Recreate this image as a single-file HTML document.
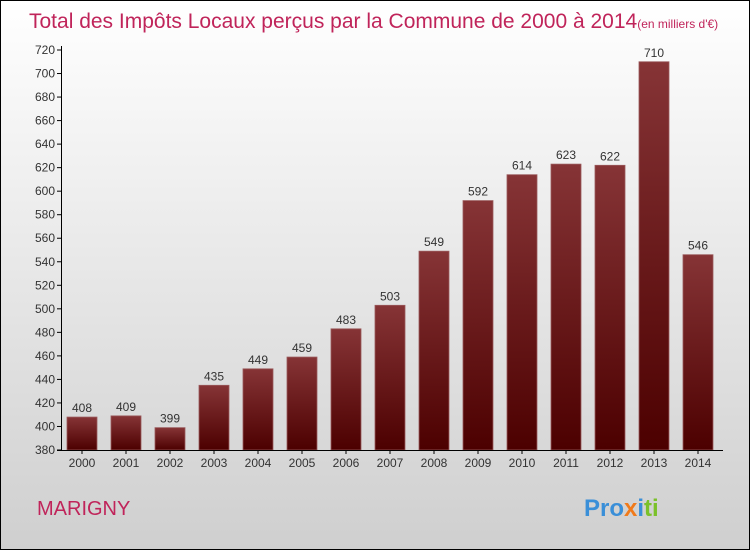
<!DOCTYPE html>
<html><head><meta charset="utf-8"><style>
html,body{margin:0;padding:0}
body{width:750px;height:550px;overflow:hidden;font-family:"Liberation Sans",sans-serif}
#wrap{position:relative;width:748px;height:548px;border:1px solid #000;background:linear-gradient(#ffffff,#cfcfcf)}
</style></head><body>
<div id="wrap">
<svg id="chart" width="748" height="548">
<defs><linearGradient id="bg" x1="0" y1="0" x2="0" y2="1"><stop offset="0" stop-color="#863436"/><stop offset="1" stop-color="#4c0000"/></linearGradient></defs>
<text x="28" y="27" font-size="21" fill="#c0245a">Total des Impôts Locaux perçus par la Commune de 2000 à 2014<tspan font-size="12">(en milliers d'€)</tspan></text>
<text x="36" y="514" font-size="20" fill="#c0245a">MARIGNY</text>
<text x="583" y="515" font-size="24" font-weight="bold"><tspan fill="#3a8fd8">Pro</tspan><tspan fill="#f07a1a">x</tspan><tspan fill="#3a8fd8">i</tspan><tspan fill="#7bc12a">ti</tspan></text>
</svg>
</div>
<script>
const categories=["2000","2001","2002","2003","2004","2005","2006","2007","2008","2009","2010","2011","2012","2013","2014"];
const values=[408,409,399,435,449,459,483,503,549,592,614,623,622,710,546];
const yTicks=[380,400,420,440,460,480,500,520,540,560,580,600,620,640,660,680,700,720];
const svg=document.getElementById('chart');
const NS="http://www.w3.org/2000/svg";
const yMin=380,yMax=720,y0=449,y1=49;
const y=v=>y0-(v-yMin)/(yMax-yMin)*(y0-y1);
const x=i=>66+44*i;
function mk(t,a){const e=document.createElementNS(NS,t);for(const k in a)e.setAttribute(k,a[k]);svg.appendChild(e);return e;}
yTicks.forEach(t=>{
 const l=mk('line',{x1:56,x2:60,y1:y(t),y2:y(t),stroke:'#000'});
 
 
 const tx=mk('text',{x:54,y:y(t)+4,'font-size':12,'text-anchor':'end',fill:'#333'});
 tx.textContent=t;
 
 
});
categories.forEach((c,i)=>{
 const r=mk('rect',{x:x(i),y:y(values[i]),width:30,height:y0-y(values[i]),fill:'url(#bg)',stroke:'#9a5a5c','stroke-width':0.8});
 
 
 const v=mk('text',{x:x(i)+15,y:y(values[i])-5,'font-size':12,'text-anchor':'middle',fill:'#333'});
 v.textContent=values[i];
 
 
 const tk=mk('line',{x1:x(i)+15,x2:x(i)+15,y1:y0,y2:y0+4,stroke:'#000'});
 
 
 const cl=mk('text',{x:x(i)+15,y:y0+17,'font-size':12,'text-anchor':'middle',fill:'#333'});
 cl.textContent=c;
 
 
});
const ya=mk('line',{x1:60.5,x2:60.5,y1:y1-4,y2:y0,stroke:'#000'});


const xa=mk('line',{x1:56,x2:722,y1:y0+0.5,y2:y0+0.5,stroke:'#000'});


</script>
</body></html>
